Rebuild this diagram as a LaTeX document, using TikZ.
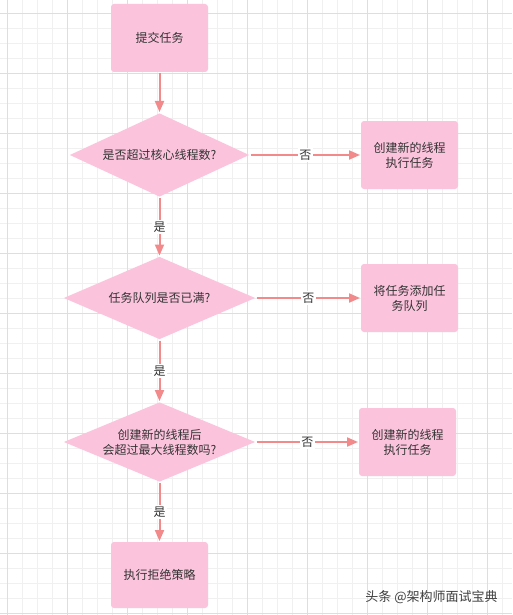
\documentclass[tikz,border=0pt]{standalone}
\usepackage{fontspec}
\usepackage{xcolor}
\usepackage{tikz}
\usetikzlibrary{positioning}
\usetikzlibrary{shapes.geometric,arrows.meta}
\newfontfamily\cjk{Noto Sans CJK SC}

\definecolor{boxpink}{HTML}{FBC4DC}
\definecolor{flowred}{HTML}{F28A8C}
\definecolor{txtgray}{HTML}{333333}
\definecolor{gridminor}{HTML}{F0F0F0}
\definecolor{gridmajor}{HTML}{DEDEDE}

\tikzset{
  proc/.style={rectangle, rounded corners=3pt, fill=boxpink, draw=none,
    minimum width=97pt, minimum height=68pt, align=center,
    text=txtgray, font=\cjk\fontsize{12}{15}\selectfont},
  decide/.style={diamond, fill=boxpink, draw=none, inner sep=0pt,
    shape aspect=2.35, minimum width=192pt, minimum height=82pt, align=center,
    text=txtgray, font=\cjk\fontsize{12}{15}\selectfont},
  lbl/.style={fill=white, inner sep=1.5pt, text=txtgray,
    font=\cjk\fontsize{12}{14}\selectfont},
}

\begin{document}
\begin{tikzpicture}[x=1pt, y=1pt, >={Triangle[length=11pt,width=9pt]},
    node distance=120pt, on grid, line width=2pt]
  \useasboundingbox[fill=white] (0,0) rectangle (512,-615);

  % background grid
  \foreach \gx in {7,22,...,502} \draw[gridminor, line width=0.8pt] (\gx,0) -- (\gx,-615);
  \foreach \gy in {13,28,...,613} \draw[gridminor, line width=0.8pt] (0,-\gy) -- (512,-\gy);
  \foreach \gx in {7,67,...,487} \draw[gridmajor, line width=0.8pt] (\gx,0) -- (\gx,-615);
  \foreach \gy in {13,73,...,613} \draw[gridmajor, line width=0.8pt] (0,-\gy) -- (512,-\gy);

  \node[proc] (submit) at (159.5,-38) {提交任务};
  \node[decide, shape aspect=2.14, minimum width=180pt, minimum height=84pt] (core) [below=117pt of submit] {是否超过核心线程数?};
  \node[decide, shape aspect=2.31, minimum height=83pt] (queue) [below=143pt of core] {任务队列是否已满?};
  \node[decide, shape aspect=2.4, minimum height=80pt] (max) [below=144pt of queue] {创建新的线程后\\会超过最大线程数吗?};
  \node[proc, minimum height=66pt] (reject) [below=133pt of max] {执行拒绝策略};

  \node[proc] (newcore) [right=250pt of core] {创建新的线程\\执行任务};
  \node[proc] (addqueue) [right=250pt of queue] {将任务添加任\\务队列};
  \node[proc] (newmax) [right=248pt of max] {创建新的线程\\执行任务};

  \path[->, flowred] (submit) edge (core);
  \path[->, flowred] (core) edge node[lbl] {是} (queue);
  \path[->, flowred] (queue) edge node[lbl] {是} (max);
  \path[->, flowred] (max) edge node[lbl] {是} (reject);
  \path[->, flowred] (core) edge node[lbl] {否} (newcore);
  \path[->, flowred] (queue) edge node[lbl] {否} (addqueue);
  \path[->, flowred] (max) edge node[lbl] {否} (newmax);

  \node[anchor=east, text=black!75, font=\cjk\fontsize{13}{15}\selectfont] (mark) at (502,-597) {头条 @架构师面试宝典}; % watermark
\end{tikzpicture}
\end{document}
